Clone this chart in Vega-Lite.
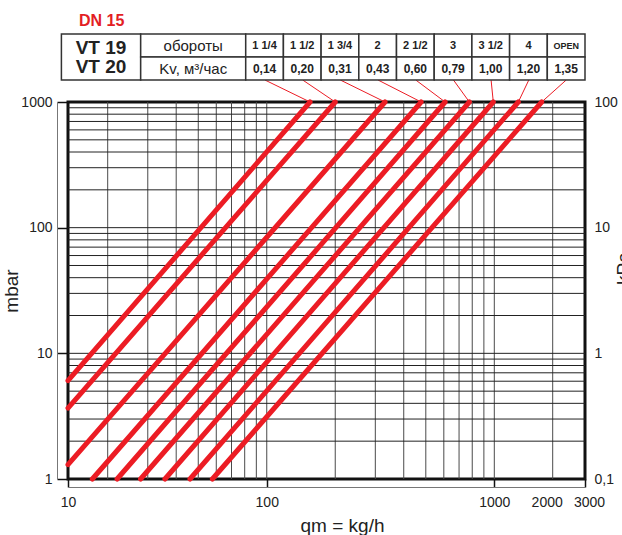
{
  "$schema": "https://vega.github.io/schema/vega-lite/v6.json",
  "autosize": {"type": "none"},
  "padding": {"left": 68, "top": 102, "right": 37, "bottom": 56},
  "background": "white",
  "width": 517,
  "height": 377,
  "config": {"font": "Liberation Sans", "view": {"stroke": "#111", "strokeWidth": 3}},
  "resolve": {"scale": {"x": "independent", "y": "independent"}, "axis": {"x": "independent", "y": "independent"}},
  "layer": [
    {
      "data": {"values": [
        {"v": 20}, {"v": 30}, {"v": 40}, {"v": 50}, {"v": 60}, {"v": 70}, {"v": 80}, {"v": 90}, {"v": 100},
        {"v": 200}, {"v": 300}, {"v": 400}, {"v": 500}, {"v": 600}, {"v": 700}, {"v": 800}, {"v": 900}, {"v": 1000},
        {"v": 2000}
      ]},
      "mark": {"type": "rule", "color": "#4a4a4a", "strokeWidth": 1},
      "encoding": {
        "x": {"field": "v", "type": "quantitative",
          "scale": {"type": "log", "domain": [10, 20, 1000, 2000, 3000], "range": [0, 39.7, 426.3, 484.7, 517], "nice": false},
          "axis": {"orient": "bottom", "values": [10, 100, 1000, 2000, 3000], "format": "d", "grid": false, "offset": 8,
            "domainColor": "#777", "domainWidth": 1, "tickSize": -8, "tickColor": "#111", "tickWidth": 1.5,
            "tickOpacity": {"condition": {"test": "datum.value == 2000", "value": 0}, "value": 1},
            "labelOffset": {"condition": [{"test": "datum.value == 2000", "value": -6}, {"test": "datum.value == 3000", "value": 4}], "value": 0},
            "labelFontSize": 14, "labelColor": "#222", "labelPadding": 16, "labelFlush": false, "labelOverlap": false,
            "title": "qm = kg/h", "titleFontSize": 19, "titleFontWeight": "normal", "titleColor": "#222",
            "titleX": 274, "titleY": 44, "titleBaseline": "alphabetic"}}
      }
    },
    {
      "data": {"values": [
        {"v": 2}, {"v": 3}, {"v": 4}, {"v": 5}, {"v": 6}, {"v": 7}, {"v": 8}, {"v": 9}, {"v": 10},
        {"v": 20}, {"v": 30}, {"v": 40}, {"v": 50}, {"v": 60}, {"v": 70}, {"v": 80}, {"v": 90}, {"v": 100},
        {"v": 200}, {"v": 300}, {"v": 400}, {"v": 500}, {"v": 600}, {"v": 700}, {"v": 800}, {"v": 900}
      ]},
      "mark": {"type": "rule", "color": "#222", "strokeWidth": 1},
      "encoding": {
        "y": {"field": "v", "type": "quantitative",
          "scale": {"type": "log", "domain": [1, 1000], "nice": false},
          "axis": {"orient": "left", "values": [1, 10, 100, 1000], "format": "d", "grid": false, "offset": 11,
            "domainColor": "#777", "domainWidth": 1, "tickSize": -11, "tickColor": "#111", "tickWidth": 1.5,
            "labelFontSize": 14, "labelColor": "#222", "labelPadding": 16, "labelFlush": false, "labelOverlap": false,
            "title": "mbar", "titleFontSize": 19, "titleFontWeight": "normal", "titleColor": "#222", "titlePadding": -1}}
      }
    },
    {
      "data": {"values": [
        {"s": 1, "x": 10, "y": 6.06}, {"s": 1, "x": 155, "y": 1000},
        {"s": 2, "x": 10, "y": 3.67}, {"s": 2, "x": 200, "y": 1000},
        {"s": 3, "x": 10, "y": 1.3}, {"s": 3, "x": 331, "y": 1000},
        {"s": 4, "x": 15.3, "y": 1}, {"s": 4, "x": 477, "y": 1000},
        {"s": 5, "x": 22.0, "y": 1}, {"s": 5, "x": 608, "y": 1000},
        {"s": 6, "x": 27.9, "y": 1}, {"s": 6, "x": 777, "y": 1000},
        {"s": 7, "x": 35.7, "y": 1}, {"s": 7, "x": 990, "y": 1000},
        {"s": 8, "x": 46.0, "y": 1}, {"s": 8, "x": 1330, "y": 1000},
        {"s": 9, "x": 57.7, "y": 1}, {"s": 9, "x": 1755, "y": 1000}
      ]},
      "mark": {"type": "line", "color": "#ec1c24", "strokeWidth": 5, "strokeCap": "round"},
      "encoding": {
        "x": {"field": "x", "type": "quantitative",
          "scale": {"type": "log", "domain": [10, 20, 1000, 2000, 3000], "range": [0, 39.7, 426.3, 484.7, 517], "nice": false},
          "axis": null},
        "y": {"field": "y", "type": "quantitative",
          "scale": {"type": "log", "domain": [1, 1000], "nice": false},
          "axis": {"orient": "right", "values": [1, 10, 100, 1000],
            "labelExpr": "datum.value == 1 ? '0,1' : format(datum.value / 10, 'd')",
            "grid": false, "ticks": false, "domain": false, "labelPadding": 9,
            "labelFontSize": 14, "labelColor": "#222", "labelFlush": false, "labelOverlap": false,
            "title": "kPa", "titleFontSize": 19, "titleFontWeight": "normal", "titleColor": "#222",
            "titleAngle": 270, "titleX": 29, "titleY": 166, "titleBaseline": "top", "titleAlign": "center"}},
        "detail": {"field": "s", "type": "nominal"}
      }
    },
    {
      "data": {"values": [
        {"xs": 98.2, "ys": 1496, "xe": 155, "ye": 1000},
        {"xs": 143.9, "ys": 1496, "xe": 200, "ye": 1000},
        {"xs": 210.6, "ys": 1496, "xe": 331, "ye": 1000},
        {"xs": 308.4, "ys": 1496, "xe": 477, "ye": 1000},
        {"xs": 451.8, "ys": 1496, "xe": 608, "ye": 1000},
        {"xs": 661.6, "ys": 1496, "xe": 777, "ye": 1000},
        {"xs": 968, "ys": 1496, "xe": 990, "ye": 1000},
        {"xs": 1506, "ys": 1496, "xe": 1330, "ye": 1000},
        {"xs": 2369, "ys": 1496, "xe": 1755, "ye": 1000}
      ]},
      "mark": {"type": "rule", "color": "#ec1c24", "strokeWidth": 1},
      "encoding": {
        "x": {"field": "xs", "type": "quantitative",
          "scale": {"type": "log", "domain": [10, 20, 1000, 2000, 3000], "range": [0, 39.7, 426.3, 484.7, 517], "nice": false},
          "axis": null},
        "y": {"field": "ys", "type": "quantitative",
          "scale": {"type": "log", "domain": [1, 1000], "nice": false}, "axis": null},
        "x2": {"field": "xe"},
        "y2": {"field": "ye"}
      }
    },
    {
      "data": {"values": [
        {"x1": 0, "x2": 2.103, "y1": 0, "y2": 2},
        {"x1": 2.103, "x2": 4.889, "y1": 0, "y2": 1},
        {"x1": 2.103, "x2": 4.889, "y1": 1, "y2": 2},
        {"x1": 4.889, "x2": 5.889, "y1": 0, "y2": 1},
        {"x1": 5.889, "x2": 6.889, "y1": 0, "y2": 1},
        {"x1": 6.889, "x2": 7.889, "y1": 0, "y2": 1},
        {"x1": 7.889, "x2": 8.889, "y1": 0, "y2": 1},
        {"x1": 8.889, "x2": 9.889, "y1": 0, "y2": 1},
        {"x1": 9.889, "x2": 10.889, "y1": 0, "y2": 1},
        {"x1": 10.889, "x2": 11.889, "y1": 0, "y2": 1},
        {"x1": 11.889, "x2": 12.889, "y1": 0, "y2": 1},
        {"x1": 12.889, "x2": 13.889, "y1": 0, "y2": 1},
        {"x1": 4.889, "x2": 5.889, "y1": 1, "y2": 2},
        {"x1": 5.889, "x2": 6.889, "y1": 1, "y2": 2},
        {"x1": 6.889, "x2": 7.889, "y1": 1, "y2": 2},
        {"x1": 7.889, "x2": 8.889, "y1": 1, "y2": 2},
        {"x1": 8.889, "x2": 9.889, "y1": 1, "y2": 2},
        {"x1": 9.889, "x2": 10.889, "y1": 1, "y2": 2},
        {"x1": 10.889, "x2": 11.889, "y1": 1, "y2": 2},
        {"x1": 11.889, "x2": 12.889, "y1": 1, "y2": 2},
        {"x1": 12.889, "x2": 13.889, "y1": 1, "y2": 2}
      ]},
      "mark": {"type": "rect", "fill": "white", "stroke": "#333", "strokeWidth": 1.5},
      "encoding": {
        "x": {"field": "x1", "type": "quantitative", "scale": {"domain": [0.175, 13.889], "nice": false, "zero": false}, "axis": null},
        "x2": {"field": "x2"},
        "y": {"field": "y1", "type": "quantitative", "scale": {"domain": [2.9565, 19.348], "reverse": true, "nice": false, "zero": false}, "axis": null},
        "y2": {"field": "y2"}
      }
    },
    {
      "data": {"values": [
        {"t": "обороты", "xc": 3.496, "yc": 0.5, "s": 15},
        {"t": "Kv, м³/час", "xc": 3.496, "yc": 1.5, "s": 15}
      ]},
      "mark": {"type": "text", "baseline": "middle", "align": "center", "color": "#222"},
      "encoding": {
        "x": {"field": "xc", "type": "quantitative", "scale": {"domain": [0.175, 13.889], "nice": false, "zero": false}, "axis": null},
        "y": {"field": "yc", "type": "quantitative", "scale": {"domain": [2.9565, 19.348], "reverse": true, "nice": false, "zero": false}, "axis": null},
        "text": {"field": "t"},
        "size": {"field": "s", "type": "quantitative", "scale": null}
      }
    },
    {
      "data": {"values": [
        {"t": "DN 15", "xc": 1.07, "yc": -0.58, "s": 16, "c": "#e31e24"},
        {"t": "VT 19", "xc": 1.05, "yc": 0.6, "s": 19, "c": "#222"},
        {"t": "VT 20", "xc": 1.05, "yc": 1.42, "s": 19, "c": "#222"},
        {"t": "1 1/4", "xc": 5.389, "yc": 0.5, "s": 11, "c": "#222"},
        {"t": "1 1/2", "xc": 6.389, "yc": 0.5, "s": 11, "c": "#222"},
        {"t": "1 3/4", "xc": 7.389, "yc": 0.5, "s": 11, "c": "#222"},
        {"t": "2", "xc": 8.389, "yc": 0.5, "s": 11, "c": "#222"},
        {"t": "2 1/2", "xc": 9.389, "yc": 0.5, "s": 11, "c": "#222"},
        {"t": "3", "xc": 10.389, "yc": 0.5, "s": 11, "c": "#222"},
        {"t": "3 1/2", "xc": 11.389, "yc": 0.5, "s": 11, "c": "#222"},
        {"t": "4", "xc": 12.389, "yc": 0.5, "s": 11, "c": "#222"},
        {"t": "OPEN", "xc": 13.389, "yc": 0.5, "s": 9, "c": "#222"},
        {"t": "0,14", "xc": 5.389, "yc": 1.5, "s": 12, "c": "#222"},
        {"t": "0,20", "xc": 6.389, "yc": 1.5, "s": 12, "c": "#222"},
        {"t": "0,31", "xc": 7.389, "yc": 1.5, "s": 12, "c": "#222"},
        {"t": "0,43", "xc": 8.389, "yc": 1.5, "s": 12, "c": "#222"},
        {"t": "0,60", "xc": 9.389, "yc": 1.5, "s": 12, "c": "#222"},
        {"t": "0,79", "xc": 10.389, "yc": 1.5, "s": 12, "c": "#222"},
        {"t": "1,00", "xc": 11.389, "yc": 1.5, "s": 12, "c": "#222"},
        {"t": "1,20", "xc": 12.389, "yc": 1.5, "s": 12, "c": "#222"},
        {"t": "1,35", "xc": 13.389, "yc": 1.5, "s": 12, "c": "#222"}
      ]},
      "mark": {"type": "text", "baseline": "middle", "align": "center", "fontWeight": "bold"},
      "encoding": {
        "x": {"field": "xc", "type": "quantitative", "scale": {"domain": [0.175, 13.889], "nice": false, "zero": false}, "axis": null},
        "y": {"field": "yc", "type": "quantitative", "scale": {"domain": [2.9565, 19.348], "reverse": true, "nice": false, "zero": false}, "axis": null},
        "text": {"field": "t"},
        "size": {"field": "s", "type": "quantitative", "scale": null},
        "color": {"field": "c", "type": "nominal", "scale": null}
      }
    }
  ]
}
